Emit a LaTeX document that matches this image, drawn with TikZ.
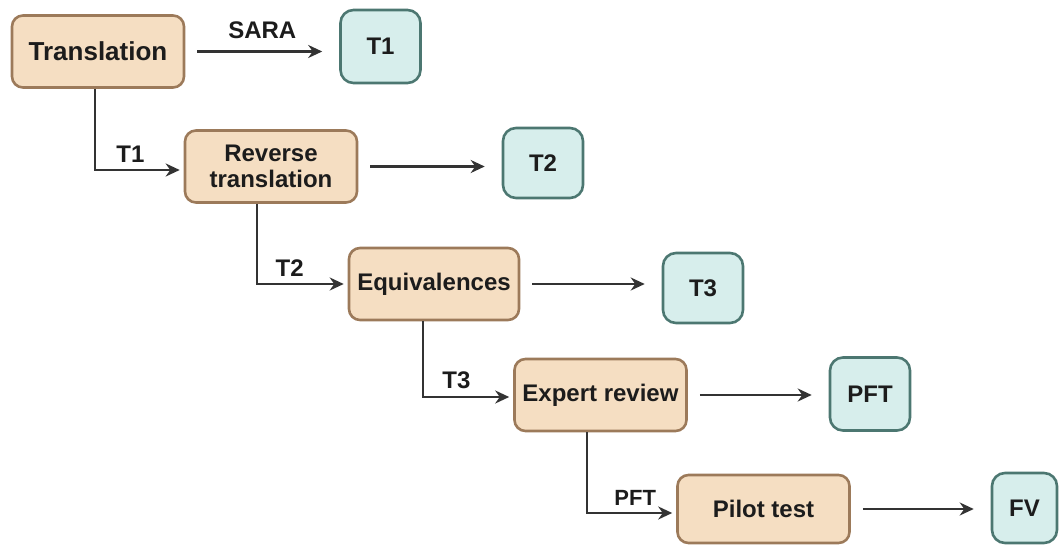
\documentclass[tikz,border=0pt]{standalone}
\usepackage{fontspec}
\setmainfont{Liberation Sans}
\usetikzlibrary{shapes,positioning,calc,arrows.meta}
\definecolor{stagefill}{HTML}{F5DEC2}
\definecolor{stageline}{HTML}{9C7A5A}
\definecolor{resfill}{HTML}{D7EEEC}
\definecolor{resline}{HTML}{4C7771}
\definecolor{ink}{HTML}{1C1C1C}
\definecolor{wire}{HTML}{333333}

\begin{document}
\begin{tikzpicture}[
      x=1pt, y=-1pt,
      stage/.style = {draw=stageline, fill=stagefill, line width=2.6pt, rounded corners=11pt,
        minimum width=172pt, minimum height=72pt, align=center, text=ink,
        font=\bfseries\fontsize{24}{26}\selectfont},
      res/.style = {draw=resline, fill=resfill, line width=2.6pt, rounded corners=13pt,
        minimum width=80pt, minimum height=71pt, text=ink,
        font=\bfseries\fontsize{24}{26}\selectfont},
      lab/.style = {above=3pt, text=ink, font=\bfseries\fontsize{24}{26}\selectfont},
      flow/.style = {-{Stealth[length=14pt,width=13pt]}, line width=2.8pt, draw=wire},
      outflow/.style = {flow, shorten <=12pt, shorten >=17pt},
      handover/.style = {flow, shorten >=4pt}
      ]
      \useasboundingbox (0,0) rectangle (1062,545);

      % stages
      \node[stage, font=\bfseries\fontsize{26}{28}\selectfont] (trans) at (98,51.5) {Translation};
      \node[stage] (rev) at (271,166.5) {Reverse\\translation};
      \node[stage, minimum width=170pt] (equiv) at (434,284) {Equivalences};
      \node[stage] (expert) at (600.5,395) {Expert review};
      \node[stage, minimum height=68pt] (pilot) at (763.5,509) {Pilot test};

      % results
      \node[res, minimum height=73pt] (t1) at (380.5,46.5) {T1};
      \node[res, minimum height=70pt] (t2) at (543,163) {T2};
      \node[res, minimum height=70pt] (t3) at (703,288) {T3};
      \node[res, minimum height=73pt] (pft) at (870,394) {PFT};
      \node[res, minimum width=65pt, minimum height=70pt] (fv) at (1024.5,508) {FV};

      % outputs
      \draw[outflow] (trans) -- (trans -| t1.west) node[midway, lab, above=8pt] {SARA};
      \draw[outflow] (rev) -- (rev -| t2.west);
      \draw[outflow] (equiv) -- (equiv -| t3.west);
      \draw[outflow] (expert) -- (expert -| pft.west);
      \draw[outflow] (pilot) -- (pilot -| fv.west);

      % hand-over to next stage
      \draw[handover] ([xshift=-3pt]trans.south) |- ([yshift=-3.5pt]rev.west) node[pos=0.7, lab] {T1};
      \draw[handover] ([xshift=-14pt]rev.south) |- (equiv.west) node[pos=0.68, lab] {T2};
      \draw[handover] ([xshift=-11pt]equiv.south) |- ([yshift=-2pt]expert.west) node[pos=0.685, lab] {T3};
      \draw[handover] ([xshift=-13.5pt]expert.south) |- ([yshift=-4pt]pilot.west)
        node[pos=0.77, lab, font=\bfseries\fontsize{22}{24}\selectfont] {PFT};
    \end{tikzpicture}
\end{document}
